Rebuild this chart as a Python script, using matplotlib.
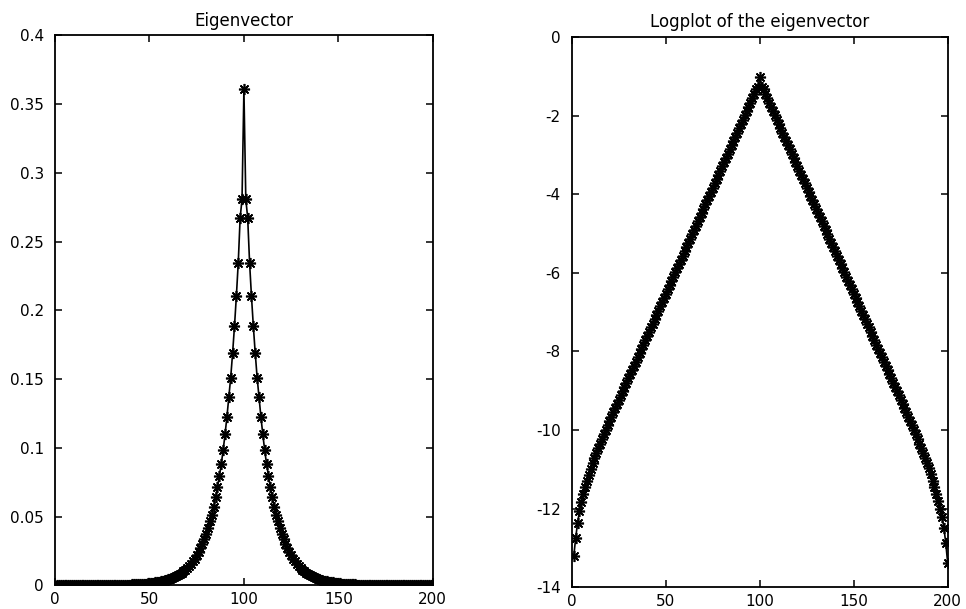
import numpy as np
import matplotlib
matplotlib.use("Agg")
import matplotlib.pyplot as plt

plt.rcParams["font.family"] = ["DejaVu Sans"]
plt.rcParams["axes.unicode_minus"] = False

# natural log of the eigenvector components, index 1..200
log_left = [
    -13.22, -12.76, -12.38, -12.07, -11.84, -11.64, -11.46, -11.30, -11.14, -10.99,
    -10.85, -10.71, -10.59, -10.47, -10.35, -10.23, -10.11, -10.00, -9.88, -9.77,
    -9.66, -9.55, -9.45, -9.34, -9.23, -9.12, -9.01, -8.91, -8.80, -8.69,
    -8.58, -8.47, -8.37, -8.26, -8.15, -8.04, -7.93, -7.83, -7.72, -7.61,
    -7.50, -7.39, -7.29, -7.18, -7.07, -6.96, -6.85, -6.75, -6.64, -6.53,
    -6.42, -6.31, -6.21, -6.10, -5.99, -5.88, -5.77, -5.67, -5.56, -5.45,
    -5.34, -5.23, -5.13, -5.02, -4.91, -4.80, -4.69, -4.59, -4.48, -4.37,
    -4.26, -4.15, -4.05, -3.94, -3.83, -3.72, -3.61, -3.51, -3.40, -3.29,
    -3.18, -3.07, -2.97, -2.86, -2.75, -2.64, -2.53, -2.43, -2.32, -2.21,
    -2.10, -1.99, -1.89, -1.78, -1.67, -1.56, -1.45, -1.32, -1.27, -1.02,
]
log_right = [
    -1.27, -1.32, -1.45, -1.56, -1.67, -1.78, -1.89, -1.99, -2.10, -2.21,
    -2.32, -2.43, -2.53, -2.64, -2.75, -2.86, -2.97, -3.07, -3.18, -3.29,
    -3.40, -3.51, -3.61, -3.72, -3.83, -3.94, -4.05, -4.15, -4.26, -4.37,
    -4.48, -4.59, -4.69, -4.80, -4.91, -5.02, -5.13, -5.23, -5.34, -5.45,
    -5.56, -5.67, -5.77, -5.88, -5.99, -6.10, -6.21, -6.31, -6.42, -6.53,
    -6.64, -6.75, -6.85, -6.96, -7.07, -7.18, -7.29, -7.39, -7.50, -7.61,
    -7.72, -7.83, -7.93, -8.04, -8.15, -8.26, -8.37, -8.47, -8.58, -8.69,
    -8.80, -8.91, -9.01, -9.12, -9.23, -9.34, -9.45, -9.55, -9.66, -9.77,
    -9.88, -10.00, -10.11, -10.23, -10.35, -10.47, -10.59, -10.71, -10.84, -10.98,
    -11.13, -11.29, -11.45, -11.63, -11.81, -12.00, -12.21, -12.49, -12.88, -13.38,
]

log_vec = np.array(log_left + log_right)
index = np.arange(1, len(log_vec) + 1)
vec = np.exp(log_vec)

left_yticks = [0, 0.05, 0.1, 0.15, 0.2, 0.25, 0.3, 0.35, 0.4]
left_ylabels = ["0", "0.05", "0.1", "0.15", "0.2", "0.25", "0.3", "0.35", "0.4"]
right_yticks = [0, -2, -4, -6, -8, -10, -12, -14]
xticks = [0, 50, 100, 150, 200]

ASTERISK = (8, 2, 0)

fig = plt.figure(figsize=(9.66, 6.09), dpi=100)
ax1 = fig.add_axes([0.057, 0.039, 0.391, 0.903])
ax2 = fig.add_axes([0.592, 0.036, 0.389, 0.903])


def style(ax):
    ax.tick_params(direction="in", top=True, right=True, length=5, width=1.1,
                   labelsize=11, pad=5)
    ax.tick_params(axis="y", pad=8)
    for s in ax.spines.values():
        s.set_linewidth(1.3)
    ax.set_xticks(xticks)
    ax.set_xlim(0, 200)


ax1.plot(index, vec, "k-", marker=ASTERISK, linewidth=1.2, markersize=8,
         markeredgewidth=1.2)
style(ax1)
ax1.set_ylim(0, 0.4)
ax1.set_yticks(left_yticks)
ax1.set_yticklabels(left_ylabels)
ax1.set_title("Eigenvector", fontsize=12, pad=7)

ax2.plot(index, log_vec, "k-", marker=ASTERISK, linewidth=1.2, markersize=8,
         markeredgewidth=1.2)
style(ax2)
ax2.set_ylim(-14, 0)
ax2.set_yticks(right_yticks)
ax2.set_title("Logplot of the eigenvector", fontsize=12, pad=7)

fig.savefig("out.png", dpi=100)
